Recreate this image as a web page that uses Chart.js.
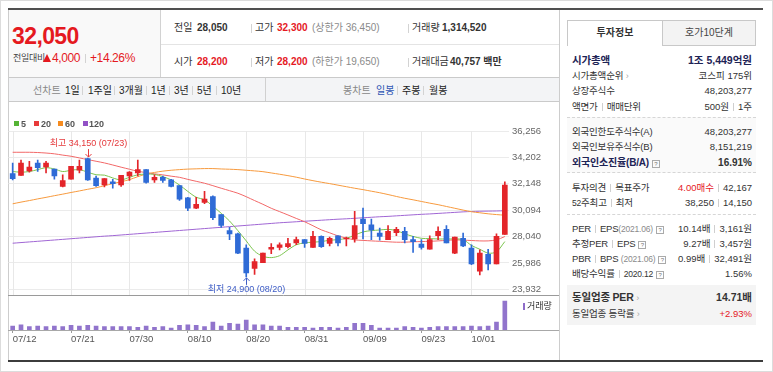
<!DOCTYPE html>
<html lang="ko">
<head>
<meta charset="utf-8">
<title>종목 차트</title>
<script src="https://cdn.jsdelivr.net/npm/chart.js@4.4.1/dist/chart.umd.min.js"></script>
<style>
  * { box-sizing: border-box; }
  html, body { margin: 0; padding: 0; background: #fff; }
  body {
    width: 773px; height: 372px; position: relative; overflow: hidden;
    font-family: "Liberation Sans", Arial, "Noto Sans CJK KR", sans-serif;
    font-size: 10px; color: #333;
  }
  .abs { position: absolute; white-space: nowrap; line-height: 13px; }
  .red { color: #e5191f; }
  .gray { color: #8a8a8a; }
  .navy { color: #1d2355; }
  b { font-weight: bold; }
  .sep { display: inline-block; width: 1px; height: 8px; background: #cfcfcf; margin: 0 4px; vertical-align: -1px; }
  .q { display: inline-block; width: 8px; height: 8px; border: 1px solid #aaa; font-size: 6px; line-height: 6px;
       text-align: center; color: #777; margin-left: 3px; vertical-align: 0; }
  .arr { color: #aaa; font-size: 9px; }
  .lb, .vl { font-size: 9.5px; }
  .lb { left: 572px; letter-spacing: -0.2px; }
  .vl { right: 21px; text-align: right; }
  .sm { font-size: 8.5px; }
  .hd { font-size: 10px; }
  .tab { top: 84px; font-size: 10px; color: #222; }
  .vs { position: absolute; width: 1px; height: 9px; background: #d3d3d3; }
  .sq { position: absolute; width: 5px; height: 5px; top: 121px; }
  .lg { position: absolute; top: 118px; font: bold 9px "Liberation Sans", Arial, sans-serif; color: #555; line-height: 12px; }
  .tri { display: inline-block; width: 0; height: 0; border-left: 4.5px solid transparent; border-right: 4.5px solid transparent;
         border-bottom: 8px solid #e5191f; margin-right: 1px; vertical-align: 0; }
  #wrap { position: absolute; left: 8px; top: 102px; width: 551px; height: 259px; z-index: 1; }
  .ov { z-index: 2; }
</style>
</head>
<body>
<!-- frame -->
<div class="abs" style="left:0;top:0;width:773px;height:372px;border:1px solid #dcdcdc;"></div>
<div class="abs" style="left:8px;top:8px;width:755px;height:2px;background:#505050;"></div>
<div class="abs" style="left:8px;top:360px;width:755px;height:2px;background:#3c3c3c;"></div>
<div class="abs" style="left:8px;top:10px;width:552px;height:350px;border-left:1px solid #cdcdcd;border-right:1px solid #cdcdcd;"></div>

<!-- price header -->
<div class="abs" style="left:9px;top:10px;width:152px;height:67px;background:#f9f9f9;border-right:1px solid #d2d2d2;"></div>
<div class="abs" style="left:161px;top:44px;width:398px;height:1px;background:#e4e4e4;"></div>
<div class="abs red" style="left:12px;top:25px;font:bold 23px 'Liberation Sans',Arial,sans-serif;letter-spacing:-0.6px;line-height:23px;">32,050</div>
<div class="abs" style="left:13px;top:52px;font-size:9px;color:#444;letter-spacing:-0.3px;">전일대비</div>
<div class="abs red" style="left:43px;top:51px;font-size:12px;letter-spacing:-0.4px;line-height:14px;"><span class="tri"></span>4,000</div>
<div class="vs" style="left:85px;top:54px;"></div>
<div class="abs red" style="left:90px;top:51px;font-size:12px;letter-spacing:-0.4px;line-height:14px;">+14.26%</div>

<div class="abs hd" style="left:174px;top:21px;">전일</div>
<div class="abs hd" style="left:197px;top:21px;"><b>28,050</b></div>
<div class="vs" style="left:251px;top:24px;"></div>
<div class="abs hd" style="left:255px;top:21px;">고가</div>
<div class="abs hd red" style="left:277px;top:21px;"><b>32,300</b></div>
<div class="abs hd gray" style="left:312px;top:21px;">(상한가 36,450)</div>
<div class="vs" style="left:408px;top:24px;"></div>
<div class="abs hd" style="left:412px;top:21px;">거래량</div>
<div class="abs hd" style="left:442px;top:21px;"><b>1,314,520</b></div>

<div class="abs hd" style="left:174px;top:55px;">시가</div>
<div class="abs hd red" style="left:197px;top:55px;"><b>28,200</b></div>
<div class="vs" style="left:251px;top:58px;"></div>
<div class="abs hd" style="left:255px;top:55px;">저가</div>
<div class="abs hd red" style="left:277px;top:55px;"><b>28,200</b></div>
<div class="abs hd gray" style="left:312px;top:55px;">(하한가 19,650)</div>
<div class="vs" style="left:408px;top:58px;"></div>
<div class="abs hd" style="left:412px;top:55px;">거래대금</div>
<div class="abs hd" style="left:450px;top:55px;"><b>40,757 백만</b></div>

<!-- period tabs -->
<div class="abs" style="left:9px;top:77px;width:550px;height:25px;background:#f3f4f6;border-top:1px solid #cacaca;border-bottom:1px solid #cacaca;"></div>
<div class="abs" style="left:265px;top:78px;width:1px;height:23px;background:#d0d0d0;"></div>
<div class="abs tab" style="left:33px;color:#888;">선차트</div>
<div class="abs tab" style="left:65px;">1일</div>
<div class="vs" style="left:82px;top:86px;"></div>
<div class="abs tab" style="left:88px;">1주일</div>
<div class="vs" style="left:114px;top:86px;"></div>
<div class="abs tab" style="left:119px;">3개월</div>
<div class="vs" style="left:146px;top:86px;"></div>
<div class="abs tab" style="left:151px;">1년</div>
<div class="vs" style="left:169px;top:86px;"></div>
<div class="abs tab" style="left:174px;">3년</div>
<div class="vs" style="left:192px;top:86px;"></div>
<div class="abs tab" style="left:197px;">5년</div>
<div class="vs" style="left:216px;top:86px;"></div>
<div class="abs tab" style="left:221px;">10년</div>
<div class="abs tab" style="left:343px;color:#888;">봉차트</div>
<div class="abs tab" style="left:376px;color:#2f55b4;">일봉</div>
<div class="vs" style="left:397px;top:86px;"></div>
<div class="abs tab" style="left:402px;">주봉</div>
<div class="vs" style="left:423px;top:86px;"></div>
<div class="abs tab" style="left:429px;">월봉</div>

<!-- chart -->
<div id="wrap"><canvas id="chart" width="551" height="259"></canvas></div>
<div class="sq ov" style="left:14px;background:#55b435;"></div>
<div class="lg ov" style="left:21px;">5</div>
<div class="sq ov" style="left:34px;background:#e83a3a;"></div>
<div class="lg ov" style="left:41px;">20</div>
<div class="sq ov" style="left:58px;background:#f68b1f;"></div>
<div class="lg ov" style="left:65px;">60</div>
<div class="sq ov" style="left:83px;background:#9251c6;"></div>
<div class="lg ov" style="left:89px;">120</div>
<div class="abs ov" style="left:523px;top:303px;width:2px;height:7px;background:#8e6cc8;"></div>
<div class="abs ov" style="left:527px;top:300px;font-size:9px;color:#333;">거래량</div>

<!-- right panel -->
<div class="abs" style="left:662px;top:20px;width:94px;height:26px;background:#f3f3f3;border:1px solid #c8c8c8;text-align:center;line-height:24px;color:#444;">호가10단계</div>
<div class="abs" style="left:567px;top:20px;width:96px;height:26px;background:#fff;border:1px solid #c8c8c8;border-bottom:none;text-align:center;line-height:24px;"><b>투자정보</b></div>

<div class="abs lb" style="top:54px;font-size:10.5px;"><b class="navy">시가총액</b></div>
<div class="abs vl" style="top:54px;font-size:10.5px;"><b class="navy">1조 5,449억원</b></div>
<div class="abs lb" style="top:69px;">시가총액순위 <span class="arr">›</span></div>
<div class="abs vl" style="top:69px;">코스피 175위</div>
<div class="abs lb" style="top:84px;">상장주식수</div>
<div class="abs vl" style="top:84px;">48,203,277</div>
<div class="abs lb" style="top:100px;">액면가<i class="sep"></i>매매단위</div>
<div class="abs vl" style="top:100px;">500원<i class="sep"></i>1주</div>

<div class="abs" style="left:567px;top:117px;width:189px;height:56px;background:#fafafa;border-top:1px dashed #d6d6d6;border-bottom:1px dashed #d6d6d6;"></div>
<div class="abs lb" style="top:125px;">외국인한도주식수(A)</div>
<div class="abs vl" style="top:125px;">48,203,277</div>
<div class="abs lb" style="top:140px;">외국인보유주식수(B)</div>
<div class="abs vl" style="top:140px;">8,151,219</div>
<div class="abs lb" style="top:156px;font-size:10px;"><b class="navy">외국인소진율(B/A)</b><span class="q">?</span></div>
<div class="abs vl" style="top:156px;font-size:10px;"><b>16.91%</b></div>

<div class="abs lb" style="top:181px;">투자의견<i class="sep"></i>목표주가</div>
<div class="abs vl" style="top:181px;"><span class="red">4.00매수</span><i class="sep"></i>42,167</div>
<div class="abs lb" style="top:196px;"><span class="sm">52</span>주최고<i class="sep"></i>최저</div>
<div class="abs vl" style="top:196px;">38,250<i class="sep"></i>14,150</div>
<div class="abs" style="left:567px;top:214px;width:189px;height:1px;border-top:1px dashed #d6d6d6;"></div>

<div class="abs lb" style="top:222px;">PER<i class="sep"></i>EPS<span class="gray sm">(2021.06)</span><span class="q">?</span></div>
<div class="abs vl" style="top:222px;">10.14배<i class="sep"></i>3,161원</div>
<div class="abs lb" style="top:237px;">추정PER<i class="sep"></i>EPS<span class="q">?</span></div>
<div class="abs vl" style="top:237px;">9.27배<i class="sep"></i>3,457원</div>
<div class="abs lb" style="top:252px;">PBR<i class="sep"></i>BPS <span class="gray sm">(2021.06)</span><span class="q">?</span></div>
<div class="abs vl" style="top:252px;">0.99배<i class="sep"></i>32,491원</div>
<div class="abs lb" style="top:267px;">배당수익률<i class="sep"></i><span class="sm">2020.12</span><span class="q">?</span></div>
<div class="abs vl" style="top:267px;">1.56%</div>

<div class="abs" style="left:567px;top:285px;width:189px;height:40px;background:#f4f4f4;"></div>
<div class="abs lb" style="top:291px;font-size:10.5px;"><b>동일업종 PER</b> <span class="arr">›</span></div>
<div class="abs vl" style="top:291px;font-size:10.5px;"><b>14.71배</b></div>
<div class="abs lb" style="top:307px;">동일업종 등락률 <span class="arr">›</span></div>
<div class="abs vl red" style="top:307px;">+2.93%</div>

<script>
// trading days shown on the daily candle chart
const dates = [
  "07/12","07/13","07/14","07/15","07/16","07/19","07/20","07/21","07/22","07/23",
  "07/26","07/27","07/28","07/29","07/30","08/02","08/03","08/04","08/05","08/06",
  "08/09","08/10","08/11","08/12","08/13","08/17","08/18","08/19","08/20","08/23",
  "08/24","08/25","08/26","08/27","08/30","08/31","09/01","09/02","09/03","09/06",
  "09/07","09/08","09/09","09/10","09/13","09/14","09/15","09/16","09/17","09/23",
  "09/24","09/27","09/28","09/29","09/30","10/01","10/05","10/06","10/07","10/08",
];
const openP = [
  32950,32800,33150,33750,33450,33300,31950,32500,33200,34100,
  32600,32050,32300,32050,32750,33000,33250,32450,32650,32450,
  32000,31050,30250,30700,31150,29750,28500,28250,27150,25550,
  26000,27050,27200,27250,27550,27800,27200,28050,27500,28100,
  27850,27850,29400,28950,28300,27800,28350,28450,27800,27450,
  27050,28100,28600,26750,27900,27150,25350,26650,25900,28200,
];
const highP = [
  33750,34000,33900,34000,33900,33300,32850,33500,34000,34150,
  32750,32550,32500,32800,33100,34000,33250,32850,32750,32500,
  32000,31100,31100,31550,31200,29750,28750,28300,27400,26300,
  26750,27500,27550,27900,28000,27800,28450,28100,28000,28100,
  28000,30000,30250,29400,28700,28900,28750,28750,28050,27800,
  28100,28800,28900,28000,28300,27400,27000,27050,28250,32300,
];
const lowP = [
  32450,32800,33050,33100,33000,32500,31900,32500,33000,32400,
  31950,31900,31800,31950,32400,32750,32200,32250,32250,31900,
  30850,30050,30200,30600,29350,28750,27800,26700,24900,25100,
  26000,26700,27000,27150,27400,27200,27200,27200,27300,27300,
  27300,27600,27850,27800,27750,27800,28100,27550,26800,27050,
  27050,27800,27550,26700,27250,25850,25050,25450,25900,28200,
];
const closeP = [
  32550,33750,33450,33400,33750,32750,32400,33500,33500,32450,
  32000,32550,32150,32800,33050,33250,32250,32650,32400,31950,
  30950,30250,30550,30950,29500,28900,28250,26750,25200,26100,
  26750,27200,27400,27500,27800,27500,28050,27250,27900,27550,
  27900,28900,29050,28550,28050,28450,28600,27800,27650,27200,
  27800,28450,27550,28000,27300,25900,26750,25900,28050,32050,
];
const volume = [
  180000,240000,150000,180000,150000,180000,150000,210000,180000,210000,
  180000,150000,150000,150000,150000,120000,180000,120000,150000,90000,
  210000,240000,210000,150000,360000,180000,300000,270000,450000,240000,
  240000,180000,180000,120000,120000,120000,90000,120000,120000,90000,
  120000,300000,300000,210000,90000,90000,90000,150000,120000,90000,
  120000,150000,150000,150000,150000,180000,150000,180000,360000,1314520,
];
const ma5 = [
  33100,33050,33100,33250,33400,33300,33100,33200,33250,33050,
  32850,32820,32600,32450,32650,32850,32900,32880,32700,32450,
  32050,31550,31100,30900,30400,29850,29250,28500,27700,26900,
  26500,26400,26550,27000,27400,27550,27600,27650,27750,27800,
  27900,28150,28400,28500,28550,28600,28500,28250,28050,27900,
  27880,27850,27850,27850,27800,27350,27050,26750,26850,27650,
];
const ma20 = [
  34600,34600,34600,34580,34540,34480,34380,34290,34160,34030,
  33900,33770,33610,33440,33280,33120,33020,32920,32840,32740,
  32650,32490,32340,32190,32000,31800,31610,31410,31140,30840,
  30550,30240,29980,29720,29450,29190,28880,28560,28330,28090,
  27920,27780,27740,27700,27670,27630,27600,27600,27630,27650,
  27670,27700,27740,27780,27760,27730,27700,27700,27780,28040,
];
const ma60 = [
  30590,30720,30840,30970,31090,31220,31340,31470,31590,31720,
  31840,32000,32160,32310,32470,32700,32900,33030,33130,33200,
  33250,33290,33310,33330,33330,33300,33280,33250,33200,33150,
  33090,32990,32890,32780,32660,32520,32390,32270,32160,32040,
  31920,31800,31690,31570,31450,31310,31160,31020,30900,30770,
  30640,30520,30380,30240,30100,29970,29890,29810,29750,29700,
];
const ma120 = [
  27520,27570,27620,27670,27720,27770,27820,27870,27920,27970,
  28020,28070,28110,28160,28210,28260,28310,28360,28410,28460,
  28510,28560,28610,28660,28710,28760,28810,28860,28910,28960,
  29010,29060,29110,29150,29190,29230,29270,29310,29350,29390,
  29420,29460,29500,29540,29580,29610,29650,29690,29730,29770,
  29800,29840,29880,29920,29960,29990,30010,30020,30030,30050,
];
const priceTicks = [23932, 25986, 28040, 30094, 32148, 34202, 36256];
const tickDates = ["07/12","07/21","07/30","08/10","08/20","08/31","09/09","09/23","10/01"];
const highMark = { date: "07/23", price: 34150, text: "최고 34,150 (07/23)" };
const lowMark = { date: "08/20", price: 24900, text: "최저 24,900 (08/20)" };

const UP = "#e3252a";
const DOWN = "#2f6bd6";
const candleColors = closeP.map((c, i) => (c >= openP[i] ? UP : DOWN));
const tickIdx = tickDates.map((d) => dates.indexOf(d));
const AXIS_FONT = { family: "'Liberation Sans', Arial, sans-serif", size: 9.5 };

/** Panel frames, date grid lines and the high/low markers. */
const panelLines = {
  id: "panelLines",
  beforeDatasetsDraw(chart) {
    const { ctx, chartArea, scales } = chart;
    const panelBottom = Math.round(scales.y.getPixelForValue(priceTicks[0])) + 6;
    ctx.save();
    ctx.lineWidth = 1;
    ctx.strokeStyle = "#e8e8e8";
    for (const i of tickIdx) {
      const px = Math.round(scales.x.getPixelForValue(i)) + 0.5;
      ctx.beginPath();
      ctx.moveTo(px, chartArea.top);
      ctx.lineTo(px, panelBottom);
      ctx.stroke();
    }
    ctx.strokeStyle = "#9a9a9a";
    ctx.beginPath();
    ctx.moveTo(0, panelBottom + 0.5);
    ctx.lineTo(chart.width, panelBottom + 0.5);
    ctx.stroke();
    ctx.strokeStyle = "#a8a8a8";
    ctx.beginPath();
    ctx.moveTo(0, Math.round(chartArea.bottom) + 0.5);
    ctx.lineTo(chart.width, Math.round(chartArea.bottom) + 0.5);
    ctx.stroke();
    ctx.restore();
  },
  afterDatasetsDraw(chart) {
    const { ctx, scales } = chart;
    ctx.save();
    ctx.font = "9px 'Liberation Sans', Arial, 'Noto Sans CJK KR', sans-serif";
    ctx.textAlign = "center";
    ctx.textBaseline = "middle";
    ctx.lineWidth = 1;

    const hx = Math.round(scales.x.getPixelForValue(dates.indexOf(highMark.date))) + 0.5;
    const hy = scales.y.getPixelForValue(highMark.price);
    ctx.strokeStyle = ctx.fillStyle = "#e5383b";
    ctx.beginPath();
    ctx.moveTo(hx, hy - 9);
    ctx.lineTo(hx, hy - 1);
    ctx.moveTo(hx - 3, hy - 4);
    ctx.lineTo(hx, hy - 1);
    ctx.lineTo(hx + 3, hy - 4);
    ctx.stroke();
    ctx.fillText(highMark.text, hx, hy - 14.5);

    const lx = Math.round(scales.x.getPixelForValue(dates.indexOf(lowMark.date))) + 0.5;
    const ly = scales.y.getPixelForValue(lowMark.price);
    ctx.strokeStyle = ctx.fillStyle = "#3d5cc6";
    ctx.beginPath();
    ctx.moveTo(lx, ly + 8);
    ctx.lineTo(lx, ly + 1);
    ctx.moveTo(lx - 3, ly + 4);
    ctx.lineTo(lx, ly + 1);
    ctx.lineTo(lx + 3, ly + 4);
    ctx.stroke();
    ctx.fillText(lowMark.text, lx, ly + 13);
    ctx.restore();
  },
};

function maLine(data, color, order) {
  return {
    type: "line",
    data,
    yAxisID: "y",
    borderColor: color,
    borderWidth: 1,
    pointRadius: 0,
    tension: 0.3,
    order,
  };
}

new Chart(document.getElementById("chart").getContext("2d"), {
  type: "bar",
  data: {
    labels: dates,
    datasets: [
      {
        data: dates.map((_, i) => [openP[i], closeP[i]]),
        yAxisID: "y",
        backgroundColor: candleColors,
        barThickness: 5,
        minBarLength: 1,
        grouped: false,
        order: 0,
      },
      {
        data: dates.map((_, i) => [lowP[i], highP[i]]),
        yAxisID: "y",
        backgroundColor: candleColors,
        barThickness: 1,
        grouped: false,
        order: 1,
      },
      maLine(ma5, "#7cc54f", 2),
      maLine(ma20, "#f26868", 3),
      maLine(ma60, "#f79a3e", 4),
      maLine(ma120, "#a066d4", 5),
      {
        data: volume,
        yAxisID: "yv",
        backgroundColor: "#9174cc",
        barThickness: 4,
        grouped: false,
        order: 6,
      },
    ],
  },
  options: {
    responsive: false,
    animation: false,
    events: [],
    layout: { padding: { left: 0.5, top: 29, right: 0, bottom: 0 } },
    plugins: { legend: { display: false }, tooltip: { enabled: false } },
    scales: {
      x: {
        type: "category",
        offset: true,
        afterBuildTicks: (s) => { s.ticks = tickIdx.map((v) => ({ value: v })); },
        afterFit: (s) => { s.height = 31; },
        grid: { display: true, drawOnChartArea: false, offset: false, tickLength: 3, tickColor: "#9a9a9a" },
        border: { display: false },
        ticks: { autoSkip: false, maxRotation: 0, align: "start", padding: 1, color: "#555", font: AXIS_FONT },
      },
      y: {
        position: "right",
        min: 20764,
        max: 36256,
        afterBuildTicks: (s) => { s.ticks = priceTicks.map((v) => ({ value: v })); },
        afterFit: (s) => { s.width = 50; },
        grid: { color: "#ebebeb", drawTicks: false },
        border: { display: false },
        ticks: {
          padding: 3,
          color: "#666",
          font: AXIS_FONT,
          callback: (v) => v.toLocaleString("en-US"),
        },
      },
      yv: { display: false, min: 0, max: 9020000 },
    },
  },
  plugins: [panelLines],
});
</script>
</body>
</html>
